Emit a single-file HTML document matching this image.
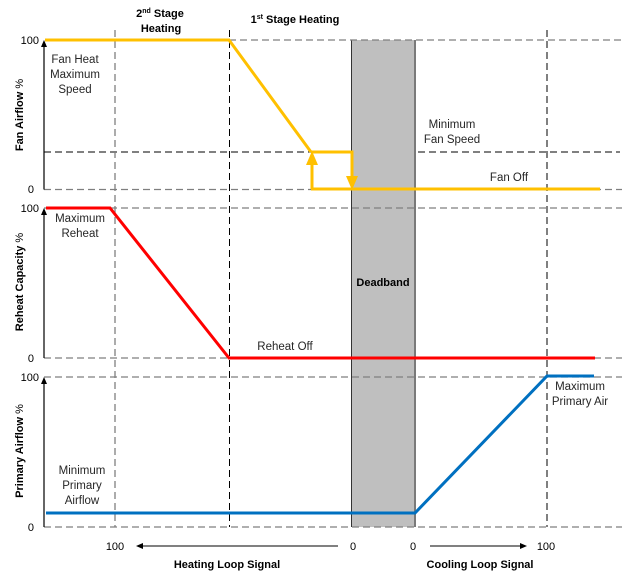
<!DOCTYPE html>
<html><head><meta charset="utf-8"><style>
html,body{margin:0;padding:0;background:#fff;}
svg{display:block;}
text{font-family:"Liberation Sans",sans-serif;}
</style></head><body>
<svg width="625" height="587" viewBox="0 0 625 587" xmlns="http://www.w3.org/2000/svg">
<!-- min fan speed black dashed (under deadband) -->
<line x1="44" y1="152" x2="620" y2="152" stroke="#000" stroke-width="1" stroke-dasharray="7,4"/>
<!-- deadband -->
<rect x="351.5" y="40" width="63" height="487" fill="#bfbfbf"/>
<line x1="351.5" y1="40" x2="351.5" y2="527" stroke="#333" stroke-width="1"/>
<line x1="415" y1="40" x2="415" y2="527" stroke="#7a7a7a" stroke-width="2"/>
<!-- gray dashed horizontals -->
<g stroke="#7f7f7f" stroke-width="1.3" stroke-dasharray="7,4" fill="none">
<line x1="229" y1="40" x2="622" y2="40"/>
<line x1="44" y1="189.5" x2="622" y2="189.5"/>
<line x1="44" y1="208" x2="622" y2="208"/>
<line x1="44" y1="358" x2="622" y2="358"/>
<line x1="44" y1="377" x2="622" y2="377"/>
<line x1="44" y1="527" x2="622" y2="527"/>
<line x1="115" y1="30" x2="115" y2="527"/>
</g>
<!-- black dashed verticals -->
<g stroke="#000" stroke-width="1" stroke-dasharray="7,4">
<line x1="229.5" y1="30" x2="229.5" y2="527"/>
<line x1="547" y1="30" x2="547" y2="527"/>
</g>
<!-- y axes -->
<g stroke="#000" stroke-width="1.2">
<line x1="44" y1="189.5" x2="44" y2="46"/>
<line x1="44" y1="358" x2="44" y2="214"/>
<line x1="44" y1="527" x2="44" y2="383"/>
</g>
<g fill="#000">
<polygon points="44,40 41,47 47,47"/>
<polygon points="44,208 41,215 47,215"/>
<polygon points="44,377 41,384 47,384"/>
</g>
<!-- fan series -->
<g stroke="#ffc000" stroke-width="3" fill="none" stroke-linejoin="miter">
<polyline points="45,40 229,40 311,152"/>
<polyline points="312,189 312,163"/>
<polyline points="311,152 352,152 352,178"/>
<line x1="311" y1="189" x2="600" y2="189"/>
</g>
<g fill="#ffc000">
<polygon points="312,151 306,165 318,165"/>
<polygon points="352,190 346,176 358,176"/>
</g>
<!-- reheat series -->
<polyline points="46,208 110,208 229,358 595,358" stroke="#ff0000" stroke-width="3" fill="none"/>
<!-- primary series -->
<polyline points="46,513 415,513 547,376 594,376" stroke="#0070c0" stroke-width="3" fill="none"/>
<!-- tick labels -->
<g font-size="11" fill="#000" text-anchor="end">
<text x="39" y="44">100</text>
<text x="34" y="193">0</text>
<text x="39" y="212">100</text>
<text x="34" y="362">0</text>
<text x="39" y="381">100</text>
<text x="34" y="531">0</text>
</g>
<!-- y labels -->
<g font-size="11" font-weight="bold" fill="#000" text-anchor="middle">
<text transform="translate(23,115) rotate(-90)">Fan Airflow <tspan font-weight="normal">%</tspan></text>
<text transform="translate(23,282) rotate(-90)">Reheat Capacity <tspan font-weight="normal">%</tspan></text>
<text transform="translate(23,451) rotate(-90)">Primary Airflow <tspan font-weight="normal">%</tspan></text>
</g>
<!-- headers -->
<g font-size="11" font-weight="bold" fill="#000" text-anchor="middle">
<text x="160" y="17">2<tspan font-size="7" dy="-4">nd</tspan><tspan dy="4"> Stage</tspan></text>
<text x="161" y="32">Heating</text>
<text x="295" y="23">1<tspan font-size="7" dy="-4">st</tspan><tspan dy="4"> Stage Heating</tspan></text>
<text x="383" y="286">Deadband</text>
<text x="227" y="568">Heating Loop Signal</text>
<text x="480" y="568">Cooling Loop Signal</text>
</g>
<!-- annotations -->
<g font-size="11.5" fill="#262626" text-anchor="middle">
<text x="75" y="63">Fan Heat</text>
<text x="75" y="78">Maximum</text>
<text x="75" y="93">Speed</text>
<text x="80" y="222">Maximum</text>
<text x="80" y="237">Reheat</text>
<text x="452" y="128">Minimum</text>
<text x="452" y="143">Fan Speed</text>
<text x="509" y="181">Fan Off</text>
<text x="285" y="350">Reheat Off</text>
<text x="82" y="474">Minimum</text>
<text x="82" y="489">Primary</text>
<text x="82" y="504">Airflow</text>
<text x="580" y="390">Maximum</text>
<text x="580" y="405">Primary Air</text>
</g>
<!-- bottom axis -->
<g font-size="11" fill="#000" text-anchor="middle">
<text x="115" y="550">100</text>
<text x="353" y="550">0</text>
<text x="413" y="550">0</text>
<text x="546" y="550">100</text>
</g>
<line x1="141" y1="546" x2="338" y2="546" stroke="#000" stroke-width="1"/>
<polygon points="136,546 143,543 143,549" fill="#000"/>
<line x1="430" y1="546" x2="521" y2="546" stroke="#000" stroke-width="1"/>
<polygon points="527,546 520,543 520,549" fill="#000"/>
</svg>
</body></html>
